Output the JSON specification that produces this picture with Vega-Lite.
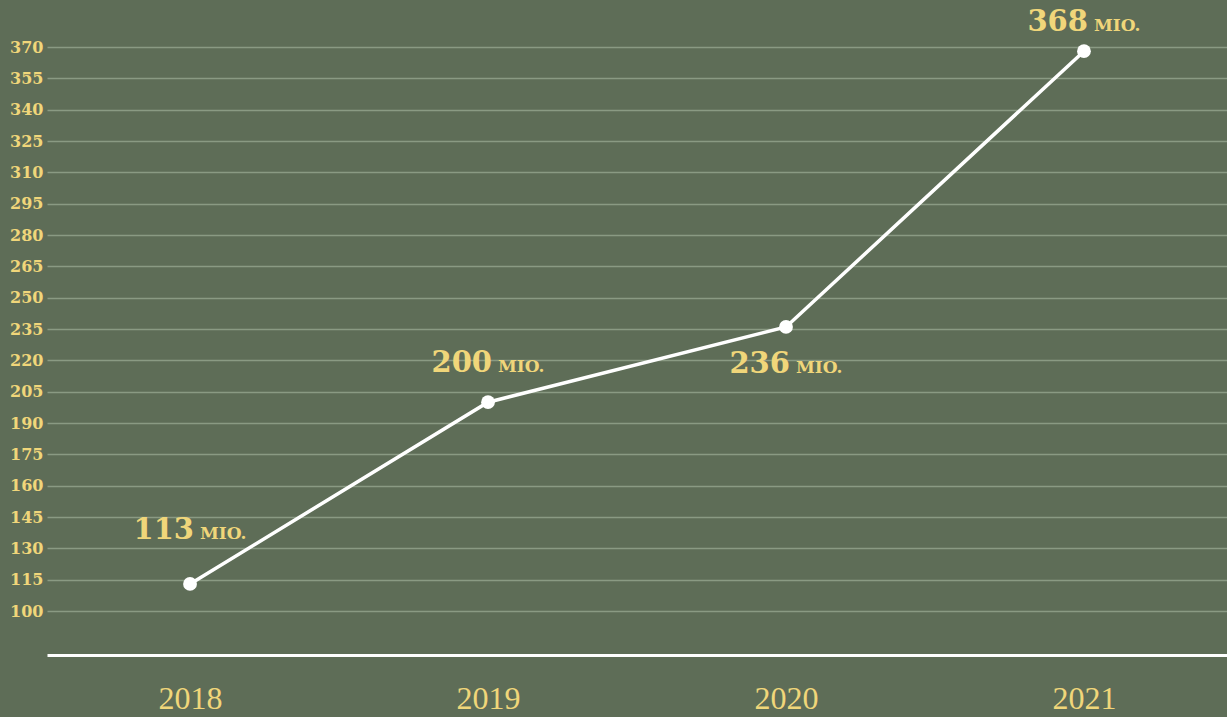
{
  "$schema": "https://vega.github.io/schema/vega-lite/v6.json",
  "width": 1180,
  "height": 655,
  "autosize": {"type": "none"},
  "padding": {"left": 47, "top": 0, "right": 0, "bottom": 62},
  "background": "#5e6d57",
  "config": {"view": {"stroke": null}},
  "data": {
    "values": [
      {"year": "2018", "value": 113, "num": "113", "unit": "MIO."},
      {"year": "2019", "value": 200, "num": "200", "unit": "MIO."},
      {"year": "2020", "value": 236, "num": "236", "unit": "MIO."},
      {"year": "2021", "value": 368, "num": "368", "unit": "MIO."}
    ]
  },
  "encoding": {
    "x": {
      "field": "year", "type": "ordinal",
      "scale": {"type": "point", "padding": 0.48},
      "axis": {
        "title": null, "labelAngle": 0, "ticks": false, "grid": false,
        "domain": true, "domainColor": "#ffffff", "domainWidth": 3,
        "labelFont": "Liberation Serif", "labelFontSize": 32, "labelColor": "#f0d67a",
        "labelBaseline": "alphabetic", "labelPadding": 53
      }
    },
    "y": {
      "field": "value", "type": "quantitative",
      "scale": {"domain": [79, 392.5], "nice": false, "zero": false},
      "axis": {
        "title": null, "domain": false, "ticks": false,
        "values": [100, 115, 130, 145, 160, 175, 190, 205, 220, 235, 250, 265, 280, 295, 310, 325, 340, 355, 370],
        "grid": true, "gridColor": "#8a9a83", "gridWidth": 1.3,
        "labelFont": "DejaVu Serif", "labelFontWeight": "bold", "labelFontSize": 16,
        "labelColor": "#f0d67a", "labelPadding": 4
      }
    }
  },
  "layer": [
    {"mark": {"type": "line", "color": "#ffffff", "strokeWidth": 3.5}},
    {"mark": {"type": "point", "filled": true, "color": "#ffffff", "opacity": 1, "size": 190}},
    {"transform": [{"filter": "datum.year == '2018'"}], "mark": {"type": "text", "font": "DejaVu Serif", "fontWeight": "bold", "fontSize": 29, "color": "#f0d67a", "align": "right", "baseline": "alphabetic", "dx": 4, "dy": -45}, "encoding": {"text": {"field": "num"}}},
    {"transform": [{"filter": "datum.year == '2018'"}], "mark": {"type": "text", "font": "DejaVu Serif", "fontWeight": "bold", "fontSize": 17, "color": "#f0d67a", "align": "left", "baseline": "alphabetic", "dx": 10, "dy": -45}, "encoding": {"text": {"field": "unit"}}},
    {"transform": [{"filter": "datum.year == '2019'"}], "mark": {"type": "text", "font": "DejaVu Serif", "fontWeight": "bold", "fontSize": 29, "color": "#f0d67a", "align": "right", "baseline": "alphabetic", "dx": 4, "dy": -30}, "encoding": {"text": {"field": "num"}}},
    {"transform": [{"filter": "datum.year == '2019'"}], "mark": {"type": "text", "font": "DejaVu Serif", "fontWeight": "bold", "fontSize": 17, "color": "#f0d67a", "align": "left", "baseline": "alphabetic", "dx": 10, "dy": -30}, "encoding": {"text": {"field": "unit"}}},
    {"transform": [{"filter": "datum.year == '2020'"}], "mark": {"type": "text", "font": "DejaVu Serif", "fontWeight": "bold", "fontSize": 29, "color": "#f0d67a", "align": "right", "baseline": "alphabetic", "dx": 4, "dy": 46}, "encoding": {"text": {"field": "num"}}},
    {"transform": [{"filter": "datum.year == '2020'"}], "mark": {"type": "text", "font": "DejaVu Serif", "fontWeight": "bold", "fontSize": 17, "color": "#f0d67a", "align": "left", "baseline": "alphabetic", "dx": 10, "dy": 46}, "encoding": {"text": {"field": "unit"}}},
    {"transform": [{"filter": "datum.year == '2021'"}], "mark": {"type": "text", "font": "DejaVu Serif", "fontWeight": "bold", "fontSize": 29, "color": "#f0d67a", "align": "right", "baseline": "alphabetic", "dx": 4, "dy": -20}, "encoding": {"text": {"field": "num"}}},
    {"transform": [{"filter": "datum.year == '2021'"}], "mark": {"type": "text", "font": "DejaVu Serif", "fontWeight": "bold", "fontSize": 17, "color": "#f0d67a", "align": "left", "baseline": "alphabetic", "dx": 10, "dy": -20}, "encoding": {"text": {"field": "unit"}}}
  ]
}
